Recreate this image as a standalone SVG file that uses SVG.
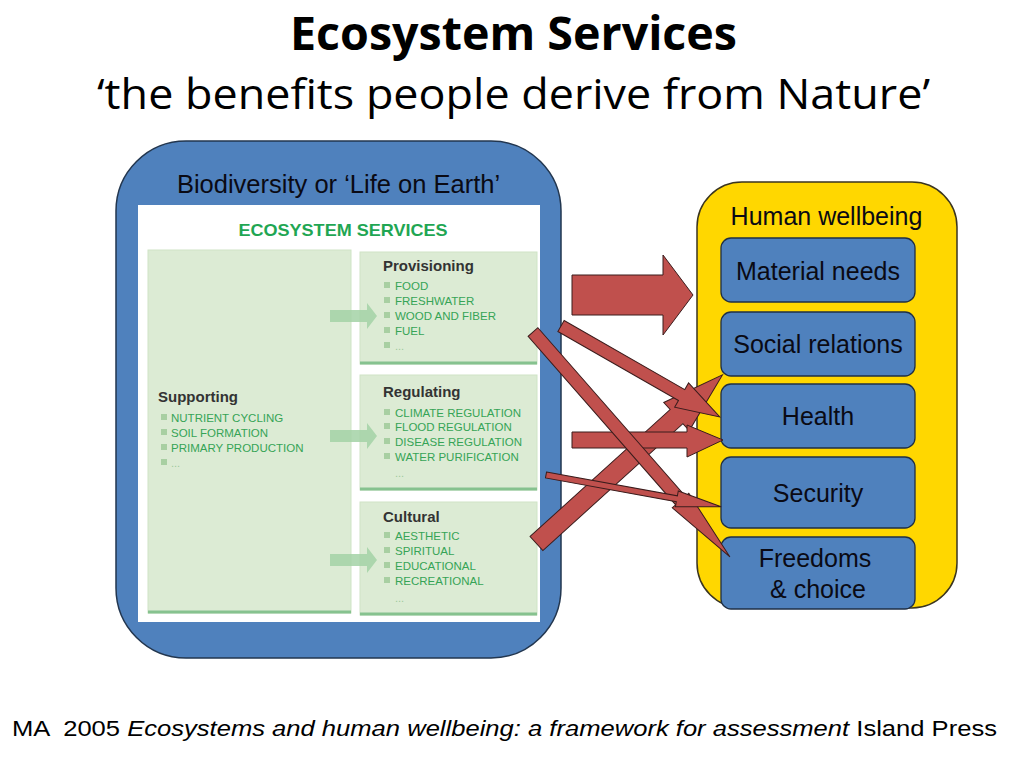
<svg xmlns="http://www.w3.org/2000/svg" width="1024" height="768" viewBox="0 0 1024 768">
<defs>
<style>
.sans{font-family:"Liberation Sans",Arial,sans-serif}
.title{font-family:"Open Sans","Noto Sans",sans-serif;fill:#000}
.lbl{font-family:"Liberation Sans",Arial,sans-serif;font-size:25px;fill:#0a0a14;text-anchor:middle}
.node{fill:#4f81bd;stroke:#1f2f45;stroke-width:1.3}
.panel{fill:#dcebd4;stroke:#cfe4c6;stroke-width:1}
.pline{stroke:#86c28f;stroke-width:3}
.ph{font-family:"Liberation Sans",Arial,sans-serif;font-size:15px;font-weight:bold;fill:#333}
.it{font-family:"Liberation Sans",Arial,sans-serif;font-size:11.5px;fill:#36a456}
.dots{font-family:"Liberation Sans",Arial,sans-serif;font-size:11px;fill:#9cc99c}
.bul{fill:#a8cfa2}
.garrow{fill:#a3d2a6;opacity:0.85}
.rarrow{fill:#c0504d;stroke:#3a1c1c;stroke-width:1}
</style>
</defs>

<g id="title">
<text class="title" x="513.5" y="50" font-size="46" font-weight="bold" text-anchor="middle" textLength="447" lengthAdjust="spacingAndGlyphs">Ecosystem Services</text>
<text class="title" x="513.5" y="109" font-size="42" text-anchor="middle" textLength="833" lengthAdjust="spacingAndGlyphs">‘the benefits people derive from Nature’</text>
</g>

<g id="biodiversity">
<rect x="116" y="141" width="445" height="517" rx="70" ry="70" fill="#4f81bd" stroke="#22364f" stroke-width="1.5"/>
<text class="lbl" x="338.5" y="193" style="font-size:25.5px">Biodiversity or ‘Life on Earth’</text>
<rect x="138" y="205" width="402" height="417" fill="#ffffff"/>
<text class="sans" x="343" y="236" font-size="17" font-weight="bold" fill="#1fa653" text-anchor="middle" textLength="209" lengthAdjust="spacingAndGlyphs">ECOSYSTEM SERVICES</text>
</g>

<g id="supporting">
<rect class="panel" x="148" y="250" width="203" height="363"/>
<line class="pline" x1="148" y1="612" x2="351" y2="612"/>
<text class="ph" x="158" y="402">Supporting</text>
<rect class="bul" x="161" y="414" width="6" height="6"/><text class="it" x="171" y="422">NUTRIENT CYCLING</text>
<rect class="bul" x="161" y="429" width="6" height="6"/><text class="it" x="171" y="437">SOIL FORMATION</text>
<rect class="bul" x="161" y="444" width="6" height="6"/><text class="it" x="171" y="452">PRIMARY PRODUCTION</text>
<rect class="bul" x="161" y="459" width="6" height="6"/><text class="dots" x="171" y="467">...</text>
</g>

<g id="provisioning">
<rect class="panel" x="360" y="252" width="177" height="112"/>
<line class="pline" x1="360" y1="363" x2="537" y2="363"/>
<text class="ph" x="383" y="271">Provisioning</text>
<rect class="bul" x="384" y="282" width="6" height="6"/><text class="it" x="395" y="290">FOOD</text>
<rect class="bul" x="384" y="297" width="6" height="6"/><text class="it" x="395" y="305">FRESHWATER</text>
<rect class="bul" x="384" y="312" width="6" height="6"/><text class="it" x="395" y="320">WOOD AND FIBER</text>
<rect class="bul" x="384" y="327" width="6" height="6"/><text class="it" x="395" y="335">FUEL</text>
<rect class="bul" x="384" y="342" width="6" height="6"/><text class="dots" x="395" y="350">...</text>
</g>

<g id="regulating">
<rect class="panel" x="360" y="375" width="177" height="115"/>
<line class="pline" x1="360" y1="489" x2="537" y2="489"/>
<text class="ph" x="383" y="397">Regulating</text>
<rect class="bul" x="384" y="409" width="6" height="6"/><text class="it" x="395" y="417">CLIMATE REGULATION</text>
<rect class="bul" x="384" y="423" width="6" height="6"/><text class="it" x="395" y="431">FLOOD REGULATION</text>
<rect class="bul" x="384" y="438" width="6" height="6"/><text class="it" x="395" y="446">DISEASE REGULATION</text>
<rect class="bul" x="384" y="453" width="6" height="6"/><text class="it" x="395" y="461">WATER PURIFICATION</text>
<text class="dots" x="395" y="477">...</text>
</g>

<g id="cultural">
<rect class="panel" x="360" y="502" width="177" height="113"/>
<line class="pline" x1="360" y1="614" x2="537" y2="614"/>
<text class="ph" x="383" y="522">Cultural</text>
<rect class="bul" x="384" y="532" width="6" height="6"/><text class="it" x="395" y="540">AESTHETIC</text>
<rect class="bul" x="384" y="547" width="6" height="6"/><text class="it" x="395" y="555">SPIRITUAL</text>
<rect class="bul" x="384" y="562" width="6" height="6"/><text class="it" x="395" y="570">EDUCATIONAL</text>
<rect class="bul" x="384" y="577" width="6" height="6"/><text class="it" x="395" y="585">RECREATIONAL</text>
<text class="dots" x="395" y="602">...</text>
</g>

<g id="green-arrows">
<polygon class="garrow" points="330,310 367,310 367,303 377,316 367,329 367,322 330,322"/>
<polygon class="garrow" points="330,430 367,430 367,423 377,436 367,449 367,442 330,442"/>
<polygon class="garrow" points="330,554 367,554 367,547 377,560 367,573 367,566 330,566"/>
</g>

<g id="human-wellbeing">
<rect x="697" y="182" width="260" height="426" rx="45" ry="45" fill="#ffd700" stroke="#3a3520" stroke-width="1.5"/>
<text class="lbl" x="826.5" y="225">Human wellbeing</text>
</g>

<g id="material-needs">
<rect class="node" x="721" y="238" width="194" height="64" rx="10" ry="10"/>
<text class="lbl" x="818" y="280">Material needs</text>
</g>
<g id="social-relations">
<rect class="node" x="721" y="312" width="194" height="64" rx="10" ry="10"/>
<text class="lbl" x="818" y="353">Social relations</text>
</g>
<g id="health">
<rect class="node" x="721" y="384" width="194" height="64" rx="10" ry="10"/>
<text class="lbl" x="818" y="425">Health</text>
</g>
<g id="security">
<rect class="node" x="721" y="457" width="194" height="71" rx="10" ry="10"/>
<text class="lbl" x="818" y="502">Security</text>
</g>
<g id="freedoms">
<rect class="node" x="721" y="537" width="194" height="72" rx="10" ry="10"/>
<text class="lbl" x="815" y="567">Freedoms</text>
<text class="lbl" x="818" y="598">&amp; choice</text>
</g>

<g id="connectors">
<polygon class="rarrow" points="572,275 663,275 663,255 693,295 663,335 663,315 572,315"/>
<polygon class="rarrow" transform="translate(536.5,543.5) rotate(-42.2)" points="0,-9.5 189,-9.5 189,-19 251,0 189,19 189,9.5 0,9.5"/>
<polygon class="rarrow" points="572,432 687,432 687,425 723,440 687,457 687,448 572,448"/>
<polygon class="rarrow" transform="translate(561,326) rotate(29.8)" points="0,-6.3 139,-6.3 139,-14 183,0 139,14 139,6.3 0,6.3"/>
<polygon class="rarrow" transform="translate(533,332) rotate(48.8)" points="0,-6.5 224,-6.5 224,-11 299,0 224,11 224,6.5 0,6.5"/>
<polygon class="rarrow" transform="translate(546,475) rotate(10.3)" points="0,-3 133,-3 133,-8 178,0 133,8 133,3 0,3"/>
</g>

<g id="footer">
<text class="sans" x="12" y="736" font-size="22" fill="#000" style="white-space:pre" textLength="985" lengthAdjust="spacingAndGlyphs">MA  2005 <tspan font-style="italic">Ecosystems and human wellbeing: a framework for assessment</tspan> Island Press</text>
</g>
</svg>
